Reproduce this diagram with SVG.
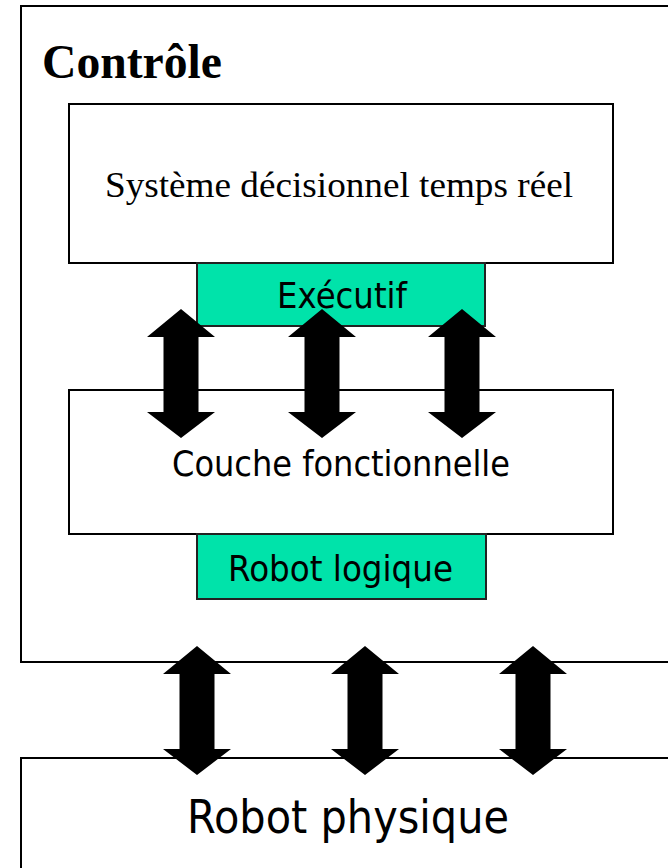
<svg xmlns="http://www.w3.org/2000/svg" xmlns:xlink="http://www.w3.org/1999/xlink" width="668" height="868" viewBox="0 0 668 868">
<style>
.box{fill:#ffffff;stroke:#000000;stroke-width:2}
.green{fill:#00E3AA;stroke:#222222;stroke-width:2}
.sans{font-family:"DejaVu Sans","Liberation Sans",sans-serif;fill:#000000}
.serif{font-family:"Liberation Serif","DejaVu Serif",serif;fill:#000000}
.arrow{fill:#000000;stroke:none}
</style>
<defs>
<path id="darrow" class="arrow" d="M0,0 L34,28 L17.5,28 L17.5,103 L34,103 L0,129 L-34,103 L-17.5,103 L-17.5,28 L-34,28 Z"/>
</defs>
<rect width="668" height="868" fill="#ffffff"/>
<g id="controle">
<rect class="box" x="21" y="6" width="670" height="656"/>
<text class="serif" x="42" y="78" font-size="48" font-weight="bold" textLength="180" lengthAdjust="spacingAndGlyphs">Contrôle</text>
</g>
<g id="systeme">
<rect class="box" x="69" y="104" width="544" height="159"/>
<text class="serif" x="339" y="197" font-size="36" text-anchor="middle" textLength="468" lengthAdjust="spacingAndGlyphs">Système décisionnel temps réel</text>
</g>
<g id="executif">
<rect class="green" x="197" y="263" width="288" height="63"/>
<text class="sans" x="342" y="308" font-size="35" text-anchor="middle" textLength="130" lengthAdjust="spacingAndGlyphs">Exécutif</text>
</g>
<g id="couche">
<rect class="box" x="69" y="390" width="544" height="144"/>
<text class="sans" x="341" y="476" font-size="36" text-anchor="middle" textLength="338" lengthAdjust="spacingAndGlyphs">Couche fonctionnelle</text>
</g>
<g id="robot-logique">
<rect class="green" x="197" y="534" width="289" height="65"/>
<text class="sans" x="340.5" y="581" font-size="36" text-anchor="middle" textLength="225" lengthAdjust="spacingAndGlyphs">Robot logique</text>
</g>
<g id="robot-physique">
<rect class="box" x="21" y="758" width="670" height="130"/>
<text class="sans" x="348" y="833" font-size="47" text-anchor="middle" textLength="322" lengthAdjust="spacingAndGlyphs">Robot physique</text>
</g>
<g id="connectors">
<use xlink:href="#darrow" href="#darrow" x="181" y="309"/>
<use xlink:href="#darrow" href="#darrow" x="322" y="309"/>
<use xlink:href="#darrow" href="#darrow" x="462" y="309"/>
<use xlink:href="#darrow" href="#darrow" x="197" y="646"/>
<use xlink:href="#darrow" href="#darrow" x="365" y="646"/>
<use xlink:href="#darrow" href="#darrow" x="533" y="646"/>
</g>
</svg>
